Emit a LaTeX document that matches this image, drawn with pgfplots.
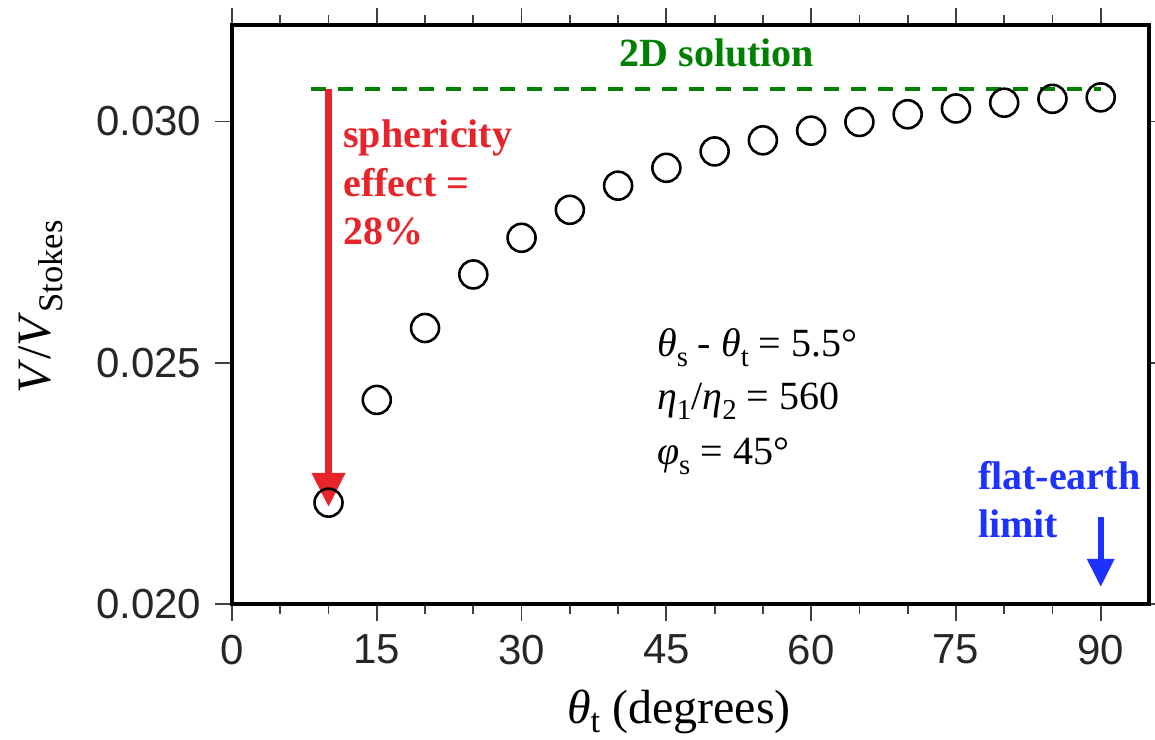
\documentclass[border=0pt]{standalone}
\usepackage{fontspec}
\setmainfont{Liberation Serif}
\setsansfont{Liberation Sans}
\usepackage{pgfplots}
\pgfplotsset{compat=1.18}
\usetikzlibrary{arrows.meta}
\definecolor{myred}{RGB}{232,36,42}
\definecolor{mygreen}{RGB}{0,128,0}
\definecolor{myblue}{RGB}{30,50,255}
\newcommand\lo[1]{\raisebox{-0.25em}{\scalebox{0.72}{#1}}}
\begin{document}
\fontsize{20}{24}\selectfont
\begin{tikzpicture}
\begin{axis}[
  scale only axis, width=458.5pt, height=289.5pt,
  at={(0,0)}, anchor=south west,
  xmin=0, xmax=95, ymin=0.020, ymax=0.032,
  xtick={0,15,...,90},
  minor xtick={5,10,20,25,35,40,50,55,65,70,80,85},
  ytick={0.020,0.025,0.030},
  tick pos=both, tick align=outside,
  major tick length=8.5pt, minor tick length=5pt,
  axis line style={line width=2pt},
  every tick/.style={black!75, line width=0.9pt},
  scaled y ticks=false,
  yticklabel style={/pgf/number format/.cd, fixed, fixed zerofill, precision=3},
  ticklabel style={font=\fontsize{21}{24}\selectfont\sffamily, text=black!85},
  /pgf/number format/assume math mode=true,
  xlabel={\textit{θ}\raisebox{-0.2em}{\scalebox{0.72}{t}} (degrees)},
  ylabel={\textit{V}/\textit{V}\lo{Stokes}},
  xlabel style={font=\fontsize{24}{28}\selectfont, at={(axis description cs:0.4875,-0.206)}, anchor=base},
  ylabel style={font=\fontsize{24}{28}\selectfont, at={(axis description cs:-0.2083,0.513)}, anchor=center},
  clip=false,
]
\addplot[mygreen, line width=2pt, dash pattern=on 7.5pt off 6pt] coordinates {(8.2,0.030664) (90,0.030664)};
\addplot[only marks, mark=o, mark size=7pt, mark options={line width=1.3pt, black}] coordinates {
(10,0.02210) (15,0.02423) (20,0.02572) (25,0.02683) (30,0.02759) (35,0.02817)
(40,0.02867) (45,0.02904) (50,0.02938) (55,0.02961) (60,0.02981) (65,0.02999)
(70,0.03015) (75,0.03027) (80,0.03039) (85,0.03047) (90,0.03050)};
\draw[myred, line width=3.5pt, -{Triangle[width=16pt,length=17pt]}] (axis cs:10,0.030664) -- (axis cs:10,0.022012);
\draw[myblue, line width=3pt, -{Triangle[width=13pt,length=14pt]}] (axis cs:90,0.021805) -- (axis cs:90,0.020353);
\begin{scope}[every node/.style={inner sep=0pt}]
\node[anchor=base, text=mygreen, font=\bfseries] at (axis cs:50.23,0.031141) {2D solution};
\node[anchor=base west, text=myred, font=\bfseries] at (axis cs:11.5,0.029461) {sphericity};
\node[anchor=base west, text=myred, font=\bfseries] at (axis cs:11.5,0.028444) {effect =};
\node[anchor=base west, text=myred, font=\bfseries] at (axis cs:11.5,0.027448) {28\%};
\node[anchor=base west, text=myblue, font=\bfseries] at (axis cs:77.26,0.022365) {flat-earth};
\node[anchor=base west, text=myblue, font=\bfseries] at (axis cs:77.26,0.021369) {limit};
\node[anchor=base west] at (axis cs:44.0,0.025124) {\textit{θ}\lo{s} - \textit{θ}\lo{t} = 5.5°};
\node[anchor=base west] at (axis cs:44.0,0.024025) {\textit{η}\lo{1}/\textit{η}\lo{2} = 560};
\node[anchor=base west] at (axis cs:44.0,0.022884) {\textit{φ}\lo{s} = 45°};
\end{scope}
\end{axis}
\pgfresetboundingbox
\path[use as bounding box] (-116pt,-67.5pt) rectangle (461.5pt,302pt);
\end{tikzpicture}
\end{document}
